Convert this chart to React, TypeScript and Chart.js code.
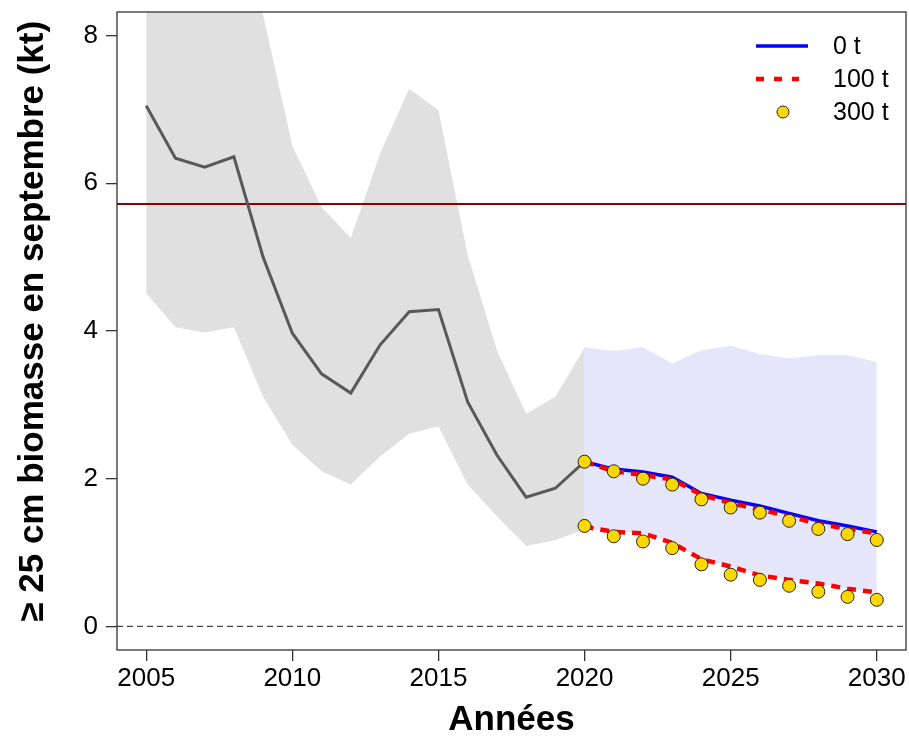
import React, { useEffect, useRef } from 'react';
import { Chart, registerables } from 'chart.js';

Chart.register(...registerables);

// ---- data ----
const histYears = [2005, 2006, 2007, 2008, 2009, 2010, 2011, 2012, 2013, 2014, 2015, 2016, 2017, 2018, 2019, 2020];
const histMedian = [7.05, 6.34, 6.22, 6.36, 5.0, 3.97, 3.42, 3.16, 3.81, 4.26, 4.29, 3.04, 2.32, 1.75, 1.87, 2.23];
const histUpper = [10.0, 10.5, 10.8, 11.0, 8.28, 6.51, 5.68, 5.26, 6.4, 7.28, 6.99, 5.03, 3.74, 2.88, 3.11, 3.77];
const histLower = [4.51, 4.05, 3.98, 4.05, 3.11, 2.46, 2.1, 1.92, 2.3, 2.61, 2.71, 1.92, 1.49, 1.09, 1.17, 1.31];

const projYears = [2020, 2021, 2022, 2023, 2024, 2025, 2026, 2027, 2028, 2029, 2030];
const projBandUpper = [3.78, 3.73, 3.78, 3.56, 3.74, 3.8, 3.69, 3.63, 3.67, 3.67, 3.58];
const projBandLower = [1.33, 1.28, 1.26, 1.13, 0.91, 0.81, 0.69, 0.63, 0.58, 0.51, 0.46];
const median0t = [2.23, 2.13, 2.09, 2.02, 1.8, 1.71, 1.63, 1.53, 1.43, 1.36, 1.28];
const median100t = [2.23, 2.1, 2.05, 1.99, 1.78, 1.67, 1.58, 1.49, 1.39, 1.32, 1.26];
const lower100t = [1.35, 1.28, 1.26, 1.13, 0.91, 0.81, 0.69, 0.63, 0.58, 0.51, 0.46];
const median300t = [2.23, 2.1, 2.0, 1.92, 1.72, 1.61, 1.54, 1.43, 1.32, 1.25, 1.17];
const lower300t = [1.36, 1.22, 1.15, 1.06, 0.84, 0.7, 0.63, 0.55, 0.47, 0.4, 0.36];

const refLevel = 5.72;
const zeroLevel = 0;
const xTicks = [2005, 2010, 2015, 2020, 2025, 2030];
const yTicks = [0, 2, 4, 6, 8];
const legendLabels = ['0 t', '100 t', '300 t'];
const xTitle = 'Années';
const yTitle = '  ≥ 25 cm biomasse en septembre (kt)';

const FONT = '"Liberation Sans", Arial, Helvetica, sans-serif';
const GREY_BAND = '#E0E0E0';
const BLUE_BAND = '#E6E6FA';

const pts = (xs: number[], ys: number[]) => xs.map((x, i) => ({ x, y: ys[i] }));

const zeroPad = (s: any) => {
  s.paddingTop = 0;
  s.paddingBottom = 0;
  s.paddingLeft = 0;
  s.paddingRight = 0;
};

export default function App() {
  const ref = useRef<HTMLCanvasElement | null>(null);

  useEffect(() => {
    if (!ref.current) return;

    const overlay = {
      id: 'overlay',
      beforeDatasetsDraw(chart: any) {
        const { ctx, chartArea } = chart;
        const ys = chart.scales.y;
        const xs = chart.scales.x;
        ctx.save();
        // close the anti-aliasing seam where the two bands meet
        const xj = xs.getPixelForValue(projYears[0]);
        ctx.strokeStyle = BLUE_BAND;
        ctx.lineWidth = 1.5;
        ctx.beginPath();
        ctx.moveTo(xj, ys.getPixelForValue(projBandUpper[0]));
        ctx.lineTo(xj, ys.getPixelForValue(projBandLower[0]));
        ctx.stroke();
        // zero dashed line
        const y0 = ys.getPixelForValue(zeroLevel);
        ctx.strokeStyle = '#444';
        ctx.lineWidth = 1.2;
        ctx.setLineDash([6, 4]);
        ctx.beginPath();
        ctx.moveTo(chartArea.left, y0);
        ctx.lineTo(chartArea.right, y0);
        ctx.stroke();
        // reference line
        const yr = ys.getPixelForValue(refLevel);
        ctx.setLineDash([]);
        ctx.strokeStyle = '#8B0000';
        ctx.lineWidth = 2;
        ctx.beginPath();
        ctx.moveTo(chartArea.left, yr);
        ctx.lineTo(chartArea.right, yr);
        ctx.stroke();
        ctx.restore();
      },
      afterDatasetsDraw(chart: any) {
        const { ctx, chartArea } = chart;
        ctx.save();
        // frame
        ctx.strokeStyle = '#333';
        ctx.lineWidth = 1.3;
        ctx.setLineDash([]);
        ctx.strokeRect(chartArea.left, chartArea.top, chartArea.right - chartArea.left, chartArea.bottom - chartArea.top);
        // legend
        const r = chartArea.right;
        const rows = [chartArea.top + 34, chartArea.top + 67, chartArea.top + 100];
        const x1 = r - 150;
        const x2 = r - 98;
        // 0 t
        ctx.strokeStyle = '#0000FF';
        ctx.lineWidth = 3.5;
        ctx.beginPath();
        ctx.moveTo(x1, rows[0]);
        ctx.lineTo(x2, rows[0]);
        ctx.stroke();
        // 100 t
        ctx.strokeStyle = '#FF0000';
        ctx.lineWidth = 4.5;
        ctx.setLineDash([8, 10]);
        ctx.beginPath();
        ctx.moveTo(x1, rows[1]);
        ctx.lineTo(r - 107, rows[1]);
        ctx.stroke();
        ctx.setLineDash([]);
        // 300 t
        ctx.fillStyle = '#FFD700';
        ctx.strokeStyle = '#222';
        ctx.lineWidth = 1;
        ctx.beginPath();
        ctx.arc(r - 123, rows[2], 6, 0, Math.PI * 2);
        ctx.fill();
        ctx.stroke();
        ctx.fillStyle = '#000';
        ctx.font = `25px ${FONT}`;
        ctx.textAlign = 'left';
        ctx.textBaseline = 'middle';
        legendLabels.forEach((t, i) => ctx.fillText(t, r - 73, rows[i] + 1));
        ctx.restore();
      },
    };

    const chart: any = new Chart(ref.current, {
      type: 'line',
      data: {
        datasets: [
          { label: 'hist upper', data: pts(histYears, histUpper), borderWidth: 0, pointRadius: 0, fill: false, order: 10 },
          { label: 'hist lower', data: pts(histYears, histLower), borderWidth: 0, pointRadius: 0, fill: '-1', backgroundColor: GREY_BAND, order: 10 },
          { label: 'proj upper', data: pts(projYears, projBandUpper), borderWidth: 0, pointRadius: 0, fill: false, order: 10 },
          { label: 'proj lower', data: pts(projYears, projBandLower), borderWidth: 0, pointRadius: 0, fill: '-1', backgroundColor: BLUE_BAND, order: 10 },
          { label: 'hist', data: pts(histYears, histMedian), borderColor: '#595959', borderWidth: 3, pointRadius: 0, fill: false, order: 4 },
          { label: '0 t', data: pts(projYears, median0t), borderColor: '#0000FF', borderWidth: 3.5, pointRadius: 0, fill: false, order: 3 },
          { label: '100 t', data: pts(projYears, median100t), borderColor: '#FF0000', borderWidth: 4.5, borderDash: [9, 7], pointRadius: 0, fill: false, order: 2 },
          { label: '100 t low', data: pts(projYears, lower100t), borderColor: '#FF0000', borderWidth: 4.5, borderDash: [9, 7], pointRadius: 0, fill: false, order: 2 },
          { label: '300 t', data: pts(projYears, median300t), showLine: false, pointRadius: 6.5, pointBackgroundColor: '#FFD700', pointBorderColor: '#222', pointBorderWidth: 1, order: 1 },
          { label: '300 t low', data: pts(projYears, lower300t), showLine: false, pointRadius: 6.5, pointBackgroundColor: '#FFD700', pointBorderColor: '#222', pointBorderWidth: 1, order: 1 },
        ],
      },
      options: {
        responsive: false,
        animation: false,
        events: [],
        layout: { autoPadding: false, padding: { left: 0, right: 3, top: 12, bottom: 0 } },
        elements: { line: { tension: 0 } },
        plugins: {
          legend: { display: false },
          tooltip: { enabled: false },
          filler: { drawTime: 'beforeDatasetsDraw' },
        },
        scales: {
          x: {
            type: 'linear',
            min: 2004,
            max: 2031,
            afterBuildTicks: (s: any) => { s.ticks = xTicks.map((v) => ({ value: v })); },
            afterFit: (s: any) => { s.height = 88; zeroPad(s); },
            grid: { drawOnChartArea: false, drawTicks: true, tickLength: 11, color: '#333', lineWidth: 1.3 },
            border: { display: false },
            ticks: {
              color: '#000',
              font: { family: FONT, size: 26 },
              padding: 2,
              maxRotation: 0,
              autoSkip: false,
              callback: (v: any) => String(v),
            },
            title: {
              display: true,
              text: xTitle,
              color: '#000',
              font: { family: FONT, size: 35, weight: 'bold', lineHeight: 1 },
              padding: { top: 0, bottom: 0 },
            },
          },
          y: {
            type: 'linear',
            min: -0.32,
            max: 8.32,
            afterBuildTicks: (s: any) => { s.ticks = yTicks.map((v) => ({ value: v })); },
            afterFit: (s: any) => { s.width = 117; zeroPad(s); },
            grid: { drawOnChartArea: false, drawTicks: true, tickLength: 11, color: '#333', lineWidth: 1.3 },
            border: { display: false },
            ticks: {
              color: '#000',
              font: { family: FONT, size: 26 },
              padding: 8,
              callback: (v: any) => String(v),
            },
            title: {
              display: true,
              text: yTitle,
              color: '#000',
              font: { family: FONT, size: 35, weight: 'bold', lineHeight: 1 },
              padding: { top: 16, bottom: 0 },
            },
          },
        },
      },
      plugins: [overlay],
    } as any);

    return () => chart.destroy();
  }, []);

  return (
    <div style={{ position: 'absolute', left: 0, top: 0, width: 909, height: 738, background: '#fff' }}>
      <canvas ref={ref} width={909} height={738} style={{ display: 'block', width: 909, height: 738 }} />
    </div>
  );
}
